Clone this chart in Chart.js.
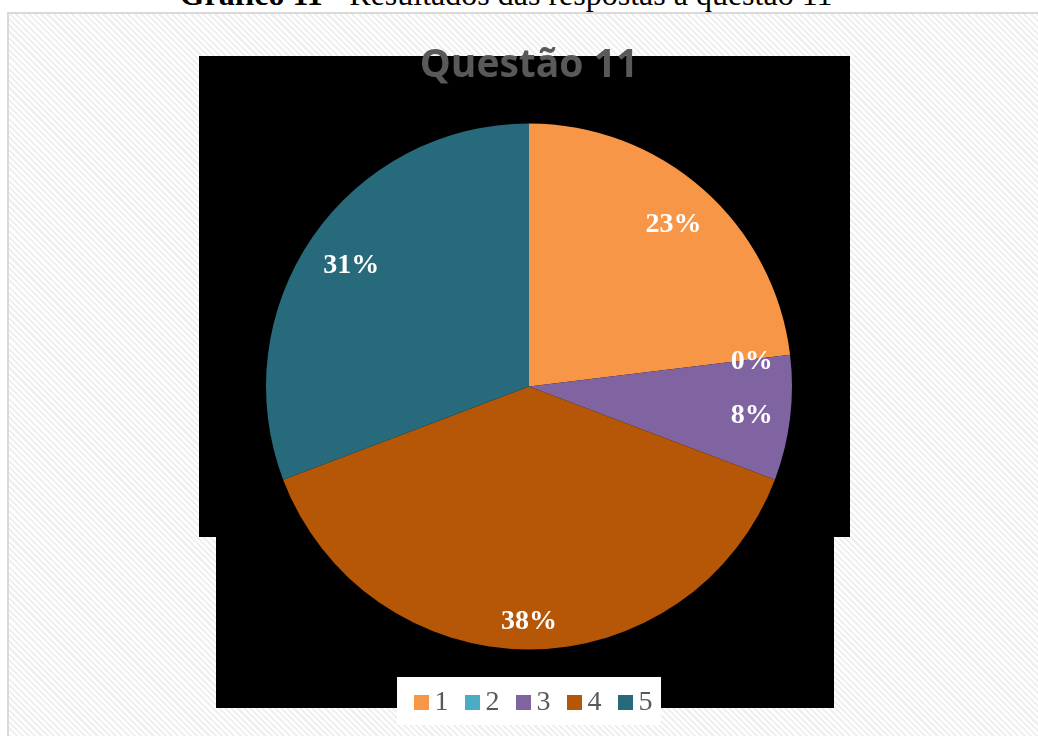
<!DOCTYPE html>
<html><head><meta charset="utf-8">
<script src="https://cdn.jsdelivr.net/npm/chart.js@4.4.0/dist/chart.umd.min.js"></script>
<style>
html,body{margin:0;padding:0;width:1038px;height:736px;overflow:hidden;background:#fff;}
#header{position:absolute;left:0;top:-22px;width:1012px;text-align:center;font-family:"Liberation Serif",serif;font-size:32px;line-height:32px;color:#000;white-space:nowrap;}
#frame{position:absolute;left:7px;top:12px;width:1100px;height:800px;border-left:2px solid #d9d9d9;border-top:2px solid #d9d9d9;
 background:repeating-linear-gradient(45deg,#ffffff 0px,#ffffff 2.2px,#f0f0f0 2.2px,#f0f0f0 4.4px);}
.blk{position:absolute;background:#000;}
#c{position:absolute;left:0;top:0;}
</style></head>
<body>
<div id="header"><b>Gráfico 11</b> - Resultados das respostas à questão 11</div>
<div id="frame"></div>
<div class="blk" style="left:199px;top:56px;width:651px;height:481px;"></div>
<div class="blk" style="left:216px;top:537px;width:618px;height:171px;"></div>
<canvas id="c" width="1038" height="736"></canvas>
<script>
const categories = ['1', '2', '3', '4', '5'];
const responses = [3, 0, 1, 5, 4];
const sliceColors = ['#F79646', '#4BACC6', '#8064A2', '#B65708', '#276A7C'];
const chartTitle = 'Questão 11';

function swatch(color) {
  const cv = document.createElement('canvas');
  cv.width = 34; cv.height = 15;
  const g = cv.getContext('2d');
  g.fillStyle = color;
  g.fillRect(18, 0, 15, 15);
  return cv;
}

const labelPlugin = {
  id: 'sliceLabels',
  afterDatasetsDraw(chart) {
    const meta = chart.getDatasetMeta(0);
    const total = responses.reduce((a, b) => a + b, 0);
    const ctx = chart.ctx;
    ctx.save();
    ctx.font = 'bold 28px "Liberation Serif"';
    ctx.fillStyle = '#ffffff';
    ctx.textAlign = 'center';
    ctx.textBaseline = 'middle';
    meta.data.forEach((arc, i) => {
      const p = arc.getProps(['x', 'y', 'startAngle', 'endAngle', 'outerRadius'], true);
      const txt = Math.round(responses[i] / total * 100) + '%';
      const w = ctx.measureText(txt).width;
      const h = 28;
      const mid = (p.startAngle + p.endAngle) / 2;
      const c = Math.cos(mid), s = Math.sin(mid);
      const proj = Math.abs(c) * w / 2 + Math.abs(s) * h / 2;
      const r = p.outerRadius - 16 - proj;
      ctx.fillText(txt, p.x + c * r, p.y + s * r + 2);
    });
    ctx.restore();
  }
};

const legendBg = {
  id: 'legendBg',
  beforeDraw(chart) {
    const hb = chart.legend && chart.legend.legendHitBoxes;
    if (!hb || !hb.length) return;
    const first = hb[0], last = hb[hb.length - 1];
    const ctx = chart.ctx;
    ctx.save();
    ctx.fillStyle = '#ffffff';
    const l = first.left - 8.5, r = last.left + last.width + 8.5;
    ctx.fillRect(l, first.top - 11.5, r - l, first.height + 20);
    ctx.restore();
  }
};

new Chart(document.getElementById('c'), {
  type: 'pie',
  data: {
    labels: categories,
    datasets: [{ data: responses, backgroundColor: sliceColors, borderWidth: 0, hoverOffset: 0 }]
  },
  options: {
    responsive: false,
    animation: false,
    radius: 263,
    layout: { padding: { left: 20, right: 0, top: 0, bottom: 9.5 } },
    plugins: {
      title: {
        display: true, text: chartTitle, color: '#595959',
        font: { family: 'Open Sans', size: 39, weight: 'bold' },
        padding: { top: 42, bottom: 3.5 }
      },
      legend: {
        position: 'bottom',
        labels: {
          boxWidth: 15, boxHeight: 15, padding: 8, color: '#595959', usePointStyle: true,
          font: { family: 'Liberation Serif', size: 28 },
          generateLabels(chart) {
            return chart.data.labels.map((t, i) => ({
              text: t, fillStyle: sliceColors[i], strokeStyle: sliceColors[i], lineWidth: 0,
              hidden: false, index: i, fontColor: '#595959', pointStyle: swatch(sliceColors[i])
            }));
          }
        }
      },
      tooltip: { enabled: false }
    }
  },
  plugins: [labelPlugin, legendBg]
});
</script>
</body></html>
